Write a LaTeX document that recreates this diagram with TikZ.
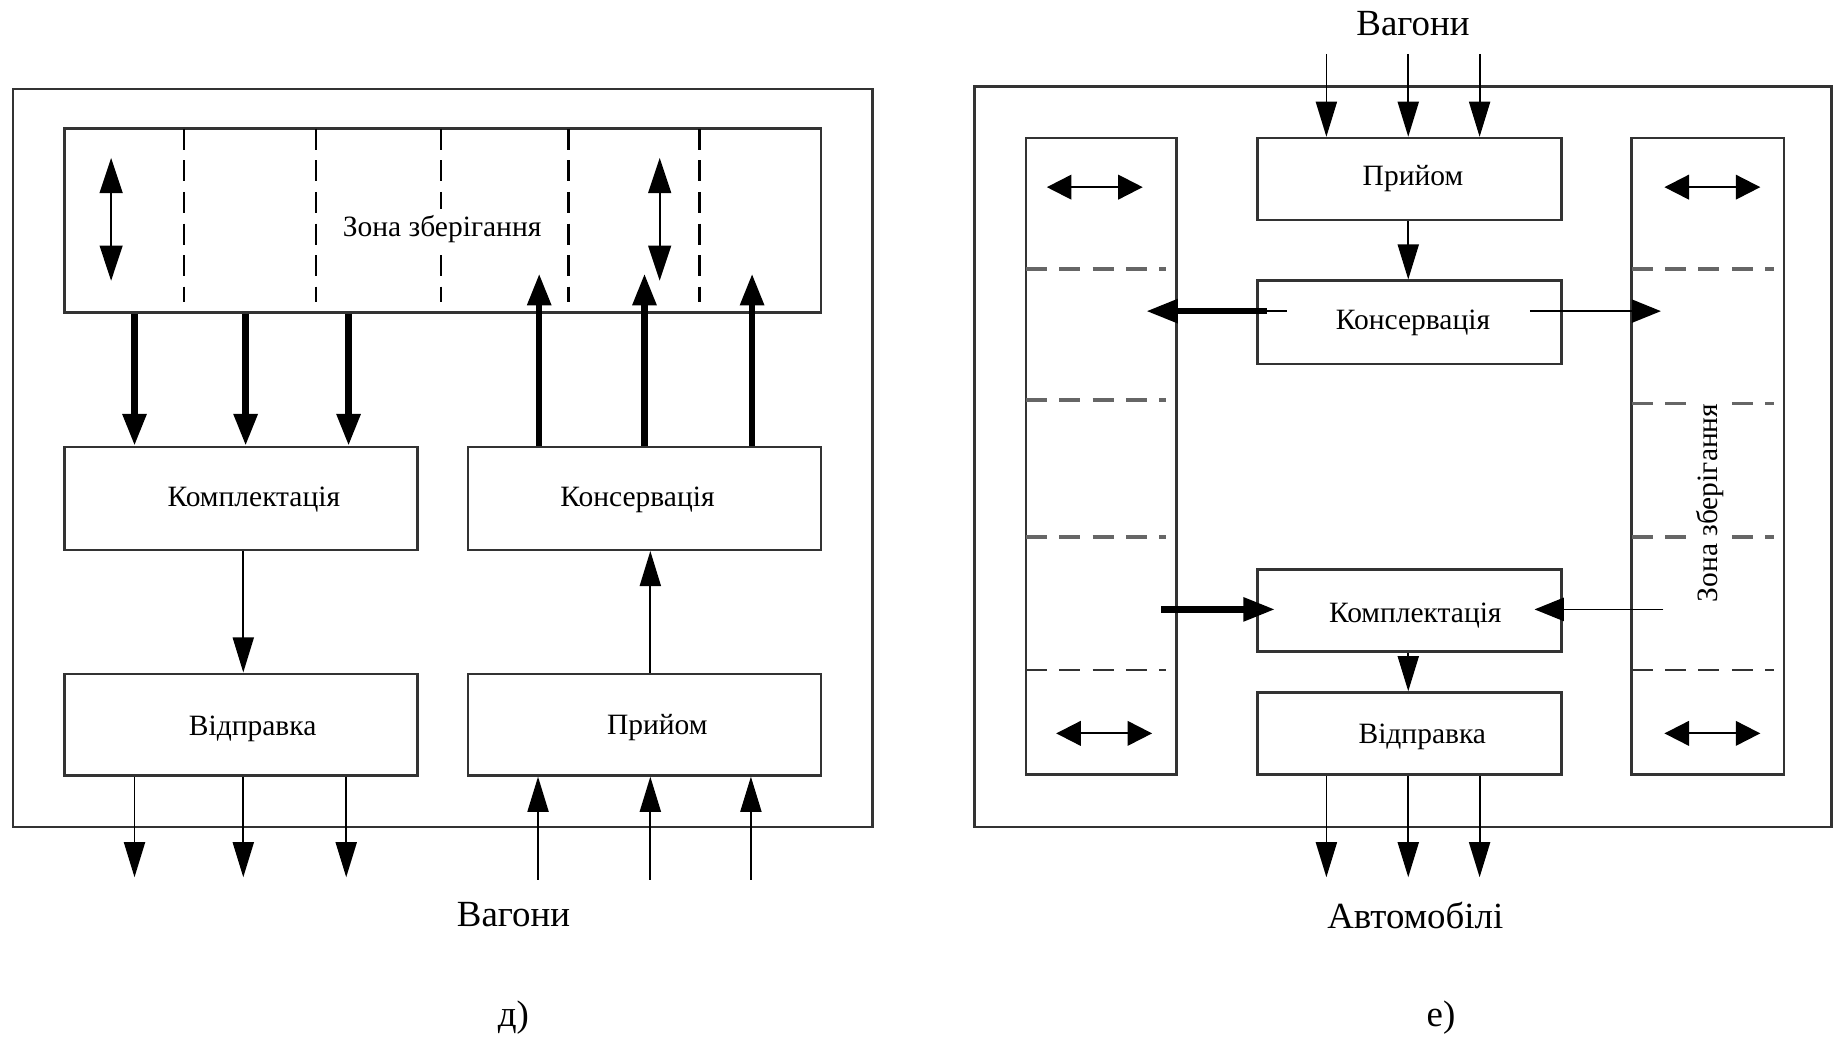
\documentclass[tikz,border=0pt]{standalone}
\usepackage{fontspec}
\setmainfont{Liberation Serif}
\usetikzlibrary{arrows.meta,fit}

\begin{document}
\begin{tikzpicture}[x=0.011696cm, y=-0.011696cm,
  frame/.style={draw=black!80, line width=0.7pt, inner sep=0pt},
  box/.style={draw=black!80, line width=0.7pt, inner sep=0pt},
  lbl/.style={font=\fontsize{8.4}{10}\selectfont, inner sep=1pt},
  big/.style={font=\fontsize{10.5}{12}\selectfont, inner sep=1pt},
  arr/.style={line width=0.5pt, -{Triangle[length=10pt,width=6pt]}},
  bold/.style={line width=1.8pt, -{Triangle[length=9pt,width=6.5pt]}},
  divider/.style={dash pattern=on 6pt off 3pt, line width=0.6pt},
  divg/.style={draw=black!60, dash pattern=on 6pt off 3.5pt, line width=1.1pt},
  divt/.style={draw=black!80, dash pattern=on 6pt off 3.5pt, line width=0.5pt},
  vdbl/.style={line width=0.5pt, {Triangle[length=10pt,width=6.5pt]}-{Triangle[length=10pt,width=6.5pt]}},
  hdbl/.style={line width=0.6pt, {Triangle[length=7pt,width=7pt]}-{Triangle[length=7pt,width=7pt]}},
]
\useasboundingbox (0,0) rectangle (1568,891);

% ---------- scheme d) ----------
\node[frame, fit={(11,76) (746,707)}] (fl) {};
\node[box, fit={(55,110) (702,267)}] (st) {};
\foreach \x in {157,270,377,486,598} \draw[divider] (\x,110) -- (\x,258);
\node[lbl, fill=white, inner sep=2pt] (stl) at (378,196) {Зона зберігання};
\draw[vdbl] (95,135) -- (95,240);
\draw[vdbl] (564,135) -- (564,240);

\node[box, fit={(55,382) (357,470)}] (kl) {};
\node[box, fit={(400,382) (702,470)}] (cl) {};
\node[box, fit={(55,576) (357,663)}] (vl) {};
\node[box, fit={(400,576) (702,663)}] (pl) {};
\node[lbl] (kll) at (217,427) {Комплектація};
\node[lbl] (cll) at (545,427) {Консервація};
\node[lbl] (vll) at (216,623) {Відправка};
\node[lbl] (pll) at (562,622) {Прийом};

% storage -> picking, preservation -> storage
\foreach \x in {115,210,298} {\coordinate (t) at (\x,0); \draw[bold] (t |- st.south) -- (t |- kl.north);}
\foreach \x in {461,551,643} {\coordinate (t) at (\x,234); \draw[bold] (t |- cl.north) -- (t);}

\coordinate (t) at (208,0); \draw[arr] (t |- kl.south) -- (t |- vl.north);
\coordinate (t) at (556,0); \draw[arr] (t |- pl.north) -- (t |- cl.south);

\foreach \x in {115,208,296} {\coordinate (t) at (\x,750); \draw[arr] (t |- vl.south) -- (t);}
\foreach \x in {460,556,642} {\coordinate (t) at (\x,752); \draw[arr] (t) -- (t |- pl.south);}

\node[big] (wl) at (439,782) {Вагони};
\node[big] (dl) at (439,870) {д)};

% ---------- scheme e) ----------
\node[frame, fit={(833,74) (1566,707)}] (fr) {};
\node[box, fit={(877,118) (1006,662)}] (lc) {};
\node[box, fit={(1395,118) (1525,662)}] (rc) {};
\node[box, fit={(1075,118) (1335,188)}] (pr) {};
\node[box, fit={(1075,240) (1335,311)}] (cr) {};
\node[box, fit={(1075,487) (1335,557)}] (kr) {};
\node[box, fit={(1075,592) (1335,662)}] (vr) {};
\node[lbl] (prl) at (1208,153) {Прийом};
\node[lbl] (crl) at (1208,276) {Консервація};
\node[lbl] (krl) at (1210,526) {Комплектація};
\node[lbl] (vrl) at (1216,630) {Відправка};

\foreach \y in {230,342,459} \draw[divg] (877,\y) -- (997,\y);
\draw[divt] (877,573) -- (997,573);
\foreach \y in {230,345,459} \draw[divg] (1395,\y) -- (1517,\y);
\draw[divt] (1395,573) -- (1517,573);
\node[lbl, rotate=90, fill=white, inner sep=1.5pt] (rcl) at (1462,430) {Зона зберігання};

\draw[hdbl] (895,160) -- (977,160);
\draw[hdbl] (903,627) -- (985,627);
\draw[hdbl] (1423,160) -- (1505,160);
\draw[hdbl] (1423,627) -- (1505,627);

\node[big] (wr) at (1208,20) {Вагони};
\foreach \x in {1134,1204,1265} {\coordinate (t) at (\x,46); \draw[arr] (t) -- (t |- pr.north);}
\coordinate (t) at (1204,0); \draw[arr] (t |- pr.south) -- (t |- cr.north);
\draw[arr] (t |- kr.south) -- (t |- vr.north);

% preservation -> both storage columns
\coordinate (c0) at (1100,266);
\coordinate (c1) at (1083,266);
\coordinate (c2) at (980,266);
\draw[line width=0.5pt] (c0) -- (c1);
\draw[bold] (c1) -- (c2);
\coordinate (c3) at (1308,266);
\coordinate (c4) at (1420,266);
\draw[line width=0.5pt, -{Triangle[length=8.3pt,width=6.6pt]}] (c3) -- (c4);

% both storage columns -> picking
\coordinate (k0) at (993,521);
\coordinate (k1) at (1090,521);
\draw[bold] (k0) -- (k1);
\coordinate (k2) at (1422,521);
\coordinate (k3) at (1312,521);
\draw[line width=0.5pt, -{Triangle[length=8.3pt,width=6.6pt]}] (k2) -- (k3);

\foreach \x in {1134,1204,1265} {\coordinate (t) at (\x,750); \draw[arr] (t |- vr.south) -- (t);}

\node[big] (ar) at (1210,783) {Автомобілі};
\node[big] (er) at (1232,870) {е)};
\end{tikzpicture}
\end{document}
